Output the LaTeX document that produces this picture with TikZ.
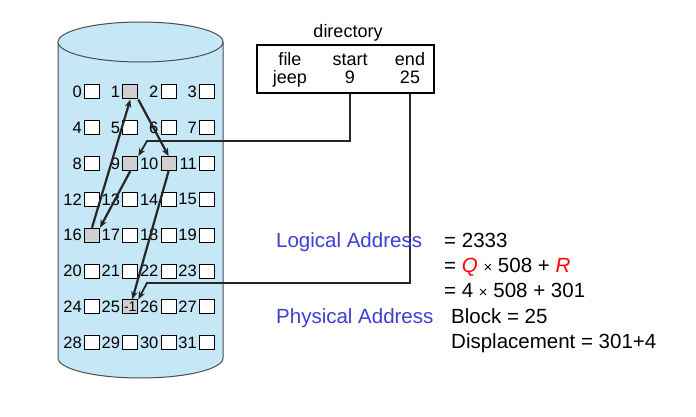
\documentclass[tikz,border=0pt]{standalone}
\usepackage{fontspec}
\setmainfont{Liberation Sans}
\usetikzlibrary{arrows.meta,positioning,calc}

\definecolor{cylblue}{RGB}{198,231,246}
\definecolor{usedgray}{RGB}{208,208,208}
\definecolor{addrblue}{RGB}{62,62,214}

\newcommand\gridfont{\fontsize{16.5}{18}\selectfont}
\newcommand\dirfont{\fontsize{18}{20}\selectfont}
\newcommand\addrfont{\fontsize{20.5}{24}\selectfont}

\tikzset{
  blk/.style={draw,fill=white,minimum width=15pt,minimum height=14pt,inner sep=0pt,line width=1pt,font=\fontsize{14}{14}\selectfont},
  blk1/.style={fill=usedgray},
  blk9/.style={fill=usedgray},
  blk10/.style={fill=usedgray},
  blk16/.style={fill=usedgray},
  blk25/.style={fill=usedgray},
  num/.style={anchor=east,inner sep=0pt,font=\gridfont},
  link/.style={-{Stealth[length=8pt,width=6.5pt]},line width=2.2pt,black!85},
  ptr/.style={-{Stealth[length=8pt,width=6.5pt]},line width=1.8pt,black!85},
  dirtxt/.style={anchor=base,inner sep=0pt,font=\dirfont},
  addr/.style={anchor=base west,inner sep=0pt,font=\addrfont},
}

\begin{document}
\begin{tikzpicture}[x=1pt,y=-1pt]
\useasboundingbox (0,0) rectangle (696,417);

% disk
\filldraw[fill=cylblue,draw=black!70,line width=1pt] (58,42) -- (58,358) arc[start angle=180,end angle=360,x radius=82.5pt,y radius=20pt] -- (223,42);
\filldraw[fill=cylblue,draw=black!70,line width=1pt] (140.5,42) ellipse[x radius=82.5pt,y radius=20pt];

% blocks
\foreach \r in {0,...,7}
  \foreach \c in {0,...,3}{
    \pgfmathtruncatemacro{\n}{4*\r+\c}
    \node[blk,blk\n/.try] (b\n) at (92+38.3*\c,92+35.8*\r) {\ifnum\n=25 -1\fi};
    \node[num] (l\n) at ([xshift=-2pt]b\n.west) {\n};
  }

% chain of the file
\draw[link] (b9.south) -- (b16.north east);
\draw[link] (b16.north) -- (b1.south);
\draw[link] (b1.south east) -- (b10.north);
\draw[link] (b10.south) -- ([xshift=2pt]b25.north);

%%%%%%%%%%%%%%%%%%%%%%%%%%
\node [draw,line width=1.6pt,minimum width=177pt,minimum height=48pt] (dir) at (345.5,69) {};
\node [dirtxt] (dirtitle) at (348,38) {directory};
\node [dirtxt] (hfile) at (290,66) {file};
\node [dirtxt] (vfile) at (290,84) {jeep};
\node [dirtxt] (hstart) at (350,66) {start};
\node [dirtxt] (vstart) at (350,84) {9};
\node [dirtxt] (hend) at (410,66) {end};
\node [dirtxt] (vend) at (410,84) {25};

\coordinate (turn9) at (147,141);
\coordinate (turn25) at (147,283);
\draw[ptr] (vstart |- dir.south) -- (vstart |- turn9) -- (turn9) -- (b9.north east);
\draw[ptr] (vend |- dir.south) -- (vend |- turn25) -- (turn25) -- (b25.north east);
%%%%%%%%%%%%%%%%%%%%%%%%%%

\node [addr,text=addrblue] (logical) at (276,247) {Logical Address};
\node [addr] (eq1) at (444,247) {= 2333};
\node [addr] (eq2) at ([yshift=-25.5pt]eq1.base west) {= \textcolor{red}{\itshape Q} {\fontsize{15}{15}\selectfont ×} 508 + \textcolor{red}{\itshape R}};
\node [addr] (eq3) at ([yshift=-25pt]eq2.base west) {= 4 {\fontsize{15}{15}\selectfont ×} 508 + 301};
\node [addr,text=addrblue] (physical) at (276,323) {Physical Address};
\node [addr] (block) at (451,323) {Block = 25};
\node [addr] (disp) at ([yshift=-25pt]block.base west) {Displacement = 301+4};

\end{tikzpicture}
\end{document}
